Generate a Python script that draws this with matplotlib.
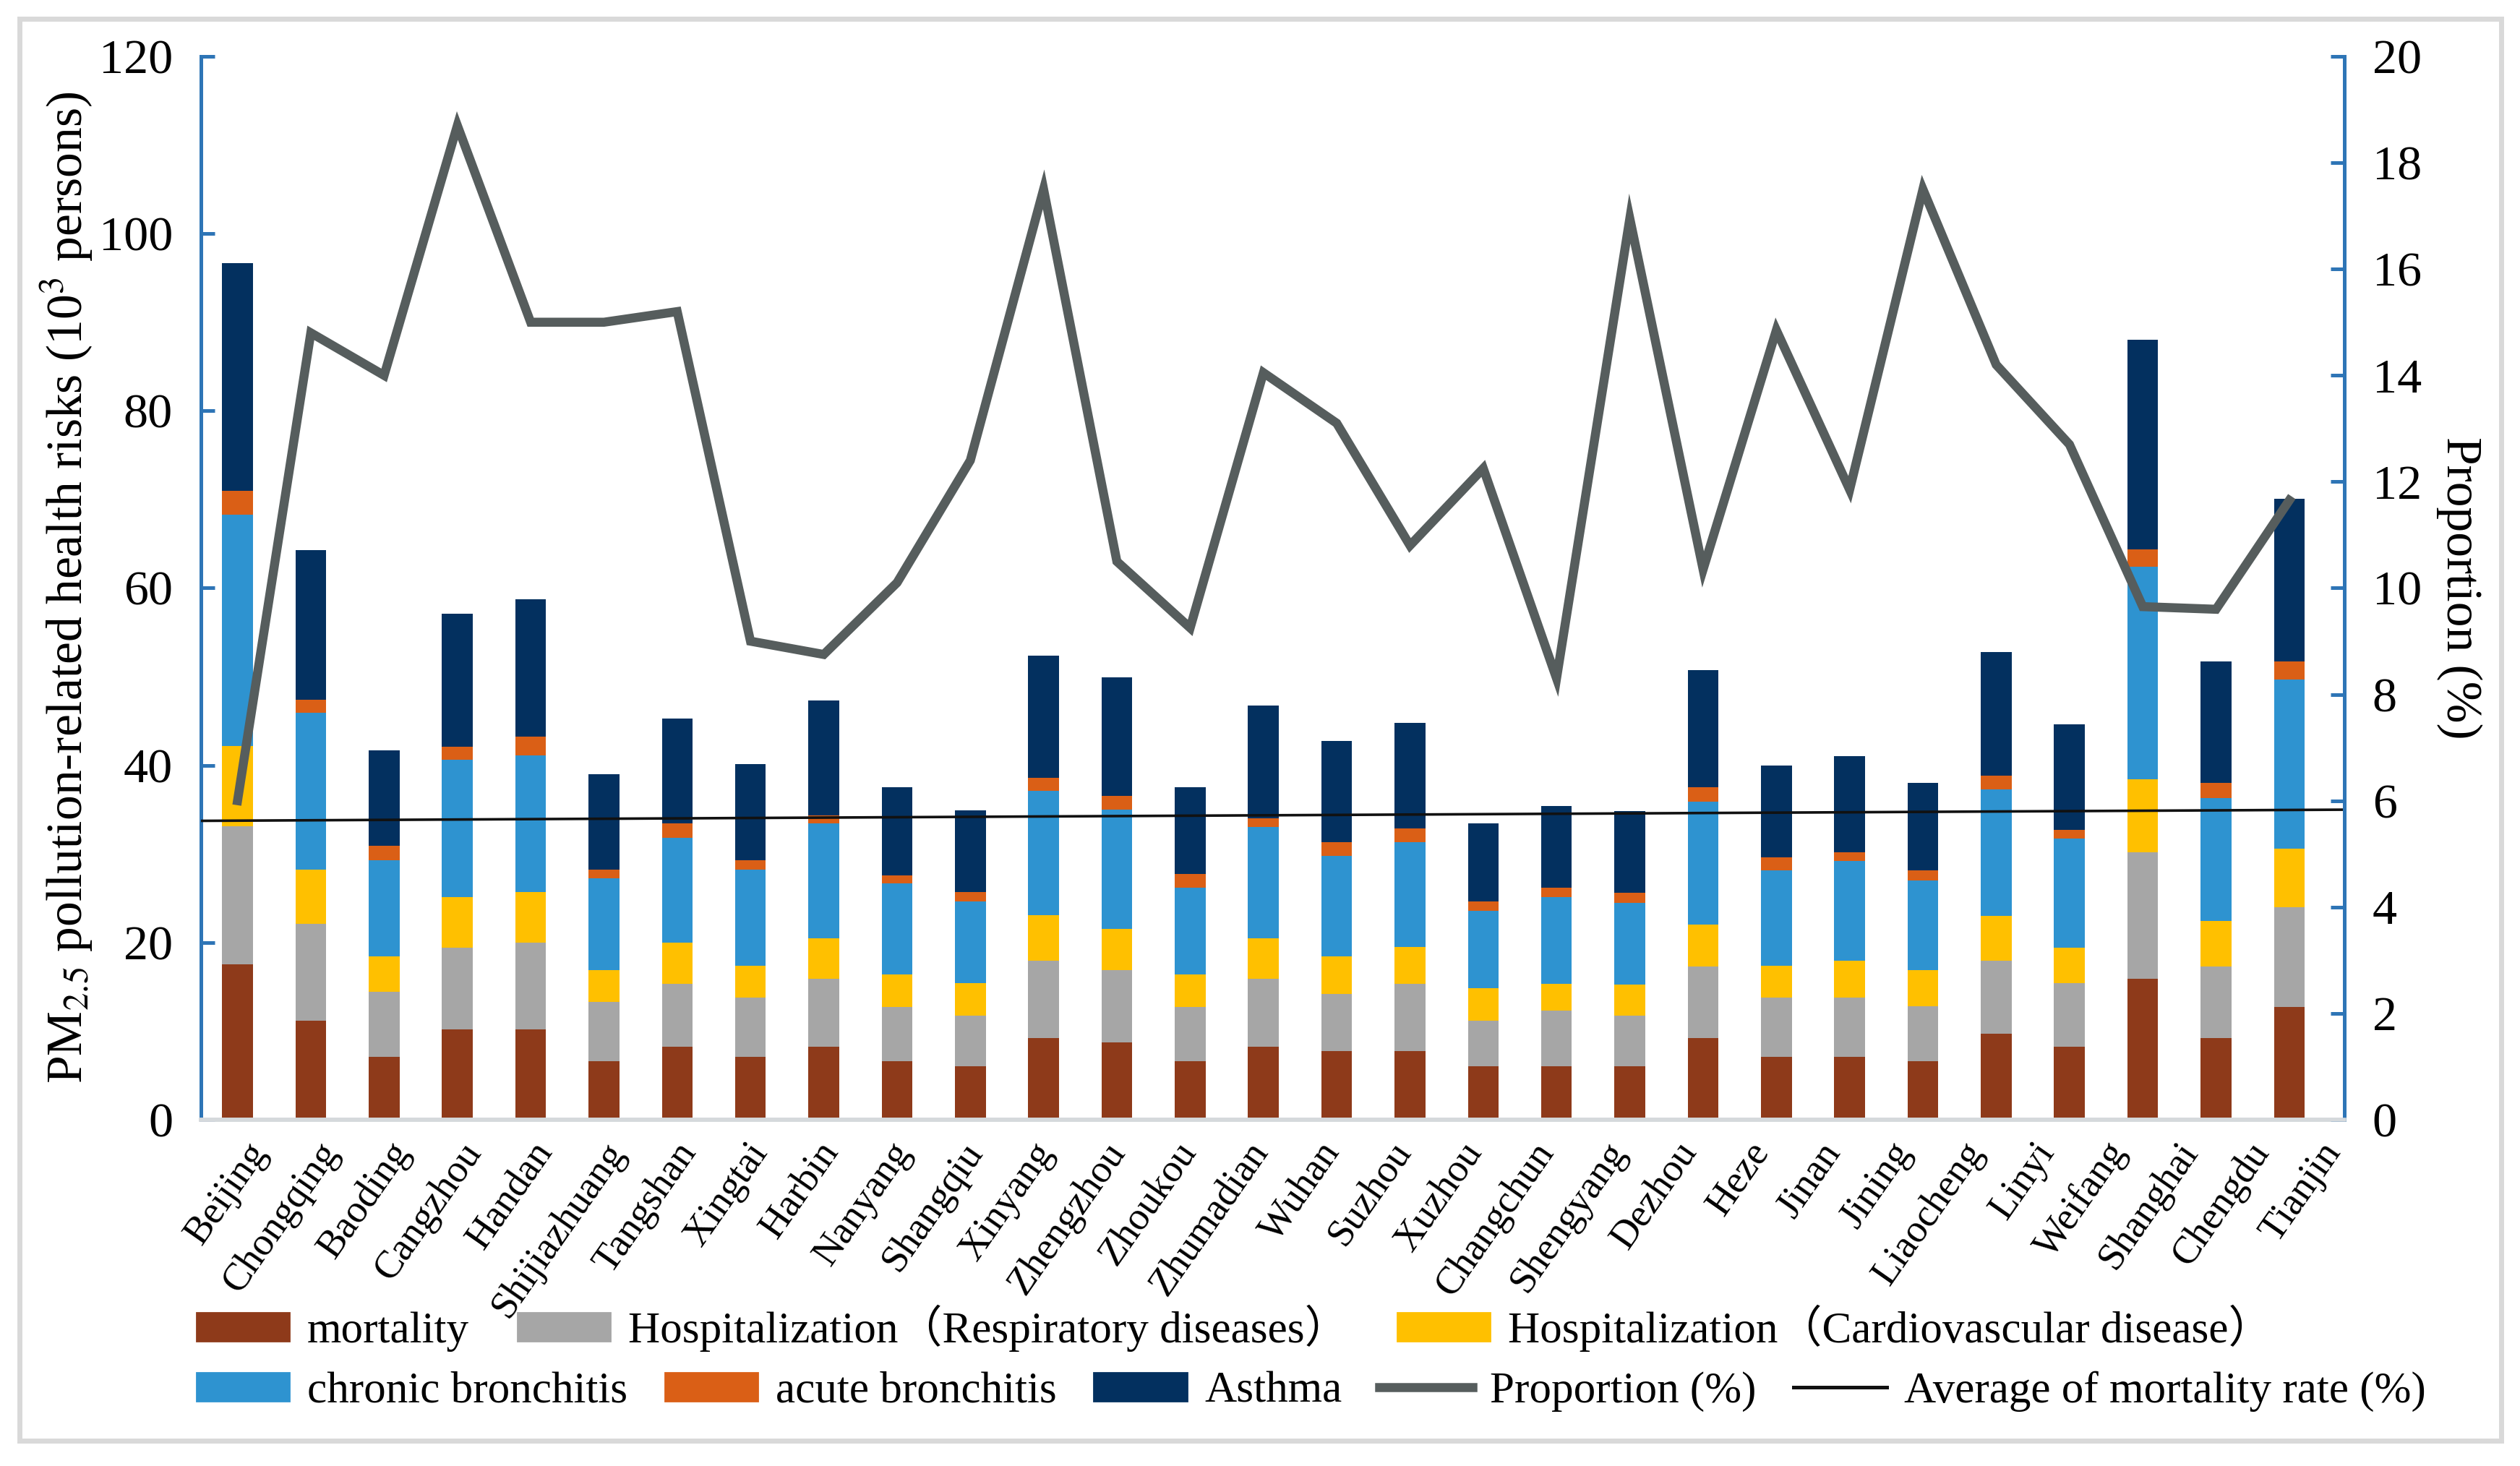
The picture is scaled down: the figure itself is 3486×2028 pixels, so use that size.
import matplotlib
matplotlib.use("Agg")
import matplotlib.pyplot as plt
from matplotlib.patches import Patch, Rectangle
from matplotlib.lines import Line2D
import numpy as np

plt.rcParams["font.family"] = ["Liberation Serif", "Noto Sans CJK SC"]
plt.rcParams["mathtext.fontset"] = "stix"

# ---- Data ----
cities = [
    "Beijing", "Chongqing", "Baoding", "Cangzhou", "Handan", "Shijiazhuang",
    "Tangshan", "Xingtai", "Harbin", "Nanyang", "Shangqiu", "Xinyang",
    "Zhengzhou", "Zhoukou", "Zhumadian", "Wuhan", "Suzhou", "Xuzhou",
    "Changchun", "Shengyang", "Dezhou", "Heze", "Jinan", "Jining",
    "Liaocheng", "Linyi", "Weifang", "Shanghai", "Chengdu", "Tianjin",
]

# stacked components (10^3 persons), one value per bar
mortality = [17.5, 11.2, 7.1, 10.2, 10.2, 6.6, 8.2, 7.1, 8.2, 6.6, 6.0, 9.2, 8.7, 6.6, 8.2,
             7.7, 7.7, 6.0, 6.0, 6.0, 9.2, 7.1, 7.1, 6.6, 9.7, 8.2, 15.9, 9.2, 12.7]
hosp_resp = [15.6, 10.9, 7.3, 9.2, 9.8, 6.7, 7.1, 6.7, 7.7, 6.1, 5.7, 8.7, 8.2, 6.1, 7.7,
             6.5, 7.6, 5.2, 6.3, 5.7, 8.1, 6.7, 6.7, 6.2, 8.2, 7.2, 14.3, 8.1, 11.3]
hosp_cardio = [9.1, 6.1, 4.0, 5.7, 5.7, 3.6, 4.7, 3.6, 4.6, 3.7, 3.7, 5.2, 4.6, 3.7, 4.6,
               4.2, 4.2, 3.6, 3.0, 3.5, 4.7, 3.6, 4.1, 4.1, 5.1, 4.0, 8.2, 5.1, 6.6]
chronic_bronchitis = [26.1, 17.7, 10.9, 15.5, 15.4, 10.3, 11.8, 10.8, 12.9, 10.3, 9.2, 14.0,
                      13.5, 9.8, 12.5, 11.4, 11.8, 8.8, 9.8, 9.3, 13.9, 10.7, 11.3, 10.1,
                      14.3, 12.3, 24.0, 13.9, 19.1]
acute_bronchitis = [2.7, 1.5, 1.6, 1.5, 2.1, 1.0, 1.6, 1.1, 0.9, 0.9, 1.1, 1.5, 1.5, 1.5, 1.0,
                    1.5, 1.6, 1.0, 1.1, 1.1, 1.6, 1.5, 1.0, 1.1, 1.5, 1.0, 2.0, 1.7, 2.0]
asthma = [25.7, 16.9, 10.8, 15.0, 15.5, 10.8, 11.9, 10.8, 13.0, 9.9, 9.2, 13.8, 13.4, 9.8,
          12.7, 11.4, 11.9, 8.8, 9.2, 9.2, 13.2, 10.4, 10.8, 9.9, 14.0, 11.9, 23.6, 13.7, 18.4]

# proportion (%) on right axis
proportion = [6.0, 14.8, 14.0, 18.7, 15.0, 15.0, 15.2, 9.0, 8.75, 10.1, 12.4, 17.5, 10.5, 9.25,
              14.05, 13.1, 10.8, 12.25, 8.3, 16.95, 10.35, 14.85, 11.85, 17.5, 14.2, 12.7,
              9.65, 9.6, 11.65]
# average mortality rate (%) trend line, start and end values
avg_mortality_ends = [5.62, 5.83]

colors = {
    "mortality": "#8E3A1A",
    "resp": "#A6A6A6",
    "cardio": "#FFC000",
    "chronic": "#2E93D0",
    "acute": "#DA5F16",
    "asthma": "#03305F",
    "prop": "#565D5D",
    "avg": "#111111",
    "axis": "#2E75B6",
}

# ---- Chart ----
fig = plt.figure(figsize=(17.435, 10.14), dpi=200)
ax = fig.add_axes([0.0797, 0.2363, 0.8503, 0.7252])
ax2 = ax.twinx()

x = np.arange(len(mortality))
width = 0.42
layers = [
    (mortality, colors["mortality"]),
    (hosp_resp, colors["resp"]),
    (hosp_cardio, colors["cardio"]),
    (chronic_bronchitis, colors["chronic"]),
    (acute_bronchitis, colors["acute"]),
    (asthma, colors["asthma"]),
]
bottom = np.zeros(len(x))
for vals, col in layers:
    ax.bar(x, vals, width, bottom=bottom, color=col, linewidth=0)
    bottom += np.array(vals)

ax2.plot(x, proportion, color=colors["prop"], linewidth=4.5, solid_joinstyle="miter")
ax2.plot([-0.5, len(x) - 0.25], avg_mortality_ends, color=colors["avg"], linewidth=1.3)

ax.set_xlim(-0.5, len(x) - 0.25)
ax.set_ylim(0, 120)
ax2.set_ylim(0, 20)
ax.set_yticks(np.arange(0, 121, 20))
ax2.set_yticks(np.arange(0, 21, 2))

# 30 city labels spread over the bar range
label_pos = np.linspace(0.1, len(x) - 0.6, len(cities))
ax.set_xticks(label_pos)
ax.set_xticklabels(cities, rotation=55, ha="right", rotation_mode="anchor", fontsize=19.5)
ax.tick_params(axis="x", length=0, pad=8)

for a in (ax, ax2):
    a.spines["top"].set_visible(False)
    a.spines["bottom"].set_color("#D5D9DC")
    a.spines["bottom"].set_linewidth(2)
ax.spines["left"].set_color(colors["axis"])
ax.spines["left"].set_linewidth(1.8)
ax.spines["right"].set_visible(False)
ax2.spines["left"].set_visible(False)
ax2.spines["right"].set_color(colors["axis"])
ax2.spines["right"].set_linewidth(1.8)
ax.tick_params(axis="y", direction="in", color=colors["axis"], width=1.8, length=7,
               labelsize=24.5, pad=14)
ax2.tick_params(axis="y", direction="in", color=colors["axis"], width=1.8, length=7,
                labelsize=24.5, pad=14)

ax.set_ylabel("PM$_{2.5}$ pollution-related health risks (10$^{3}$ persons)",
              fontsize=25, labelpad=2)
ax2.set_ylabel("Proportion (%)", fontsize=25, rotation=-90, labelpad=30)

# ---- Legend (two rows) ----
row1 = [
    Patch(color=colors["mortality"], label="mortality"),
    Patch(color=colors["resp"], label="Hospitalization（Respiratory diseases）"),
    Patch(color=colors["cardio"], label="Hospitalization（Cardiovascular disease）"),
]
row2 = [
    Patch(color=colors["chronic"], label="chronic bronchitis"),
    Patch(color=colors["acute"], label="acute bronchitis"),
    Patch(color=colors["asthma"], label="Asthma"),
    Line2D([], [], color=colors["prop"], linewidth=4.5, label="Proportion (%)"),
    Line2D([], [], color=colors["avg"], linewidth=1.8, label="Average of mortality rate (%)"),
]
leg_kw = dict(frameon=False, fontsize=22, handlelength=2.1, handleheight=0.6,
              handletextpad=0.4, borderpad=0, borderaxespad=0)
leg1 = fig.legend(handles=row1, loc="center left", bbox_to_anchor=(0.078, 0.094),
                  ncol=3, columnspacing=1.1, **leg_kw)
leg2 = fig.legend(handles=row2, loc="center left", bbox_to_anchor=(0.078, 0.051),
                  ncol=5, columnspacing=0.85, **leg_kw)

# light border around the figure
fig.patches.append(Rectangle((0.0077, 0.0175), 0.9845, 0.9695, transform=fig.transFigure,
                             fill=False, edgecolor="#D9D9D9", linewidth=2.5))

fig.savefig("out.png", dpi=200, facecolor="white")
